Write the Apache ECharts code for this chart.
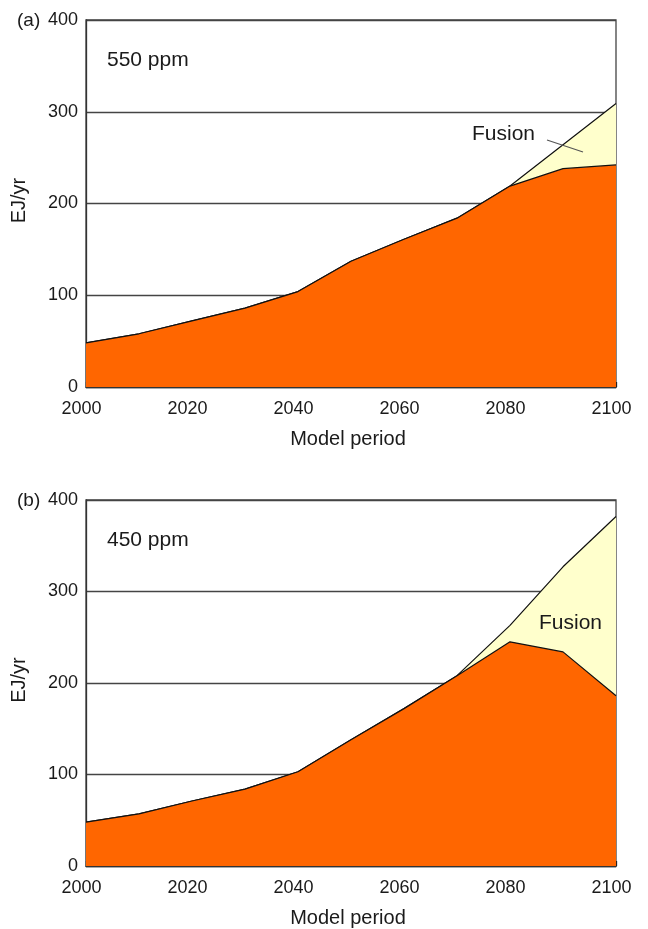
<!DOCTYPE html>
<html><head><meta charset="utf-8">
<script src="https://cdn.jsdelivr.net/npm/echarts@6/dist/echarts.min.js"></script>
<style>html,body{margin:0;padding:0;background:#fff}#c{width:648px;height:929px}</style>
</head><body><div id="c"></div>
<script>
const years = ['2000','2010','2020','2030','2040','2050','2060','2070','2080','2090','2100'];
const a_other = [48,58,72,86,104,137,161,184,219,238,242];
const a_fusion = [0,0,0,0,0,0,0,0,0,26,67];
const b_other = [48,57,71,84,103,138,172,208,245,234,186];
const b_fusion = [0,0,0,0,0,0,0,0,18,93,196];
const yTicks = [0,100,200,300,400];

const FONT = 'Liberation Sans, Arial, Helvetica, sans-serif';
const ORANGE = '#FF6600', PALE = '#FFFFCC', INK = '#1a1a1a';

function xAx(gi){
  return {gridIndex:gi,type:'category',data:years,boundaryGap:false,
    axisLine:{show:true,lineStyle:{color:'#333',width:1.3}},
    axisTick:{show:true,inside:true,length:5,interval:0,lineStyle:{color:'#222',width:1.3}},
    splitLine:{show:false},
    axisLabel:{color:INK,fontSize:18,fontFamily:FONT,margin:13,interval:1,padding:[0,9,0,0]},
    name:'Model period',nameLocation:'middle',nameGap:42,
    nameTextStyle:{color:INK,fontSize:20,fontFamily:FONT,padding:[0,6,0,0]}};
}
function yAx(gi){
  return {gridIndex:gi,type:'value',min:0,max:400,interval:100,
    axisLine:{show:true,lineStyle:{color:'#333',width:1.3}},
    axisTick:{show:false},
    splitLine:{show:true,lineStyle:{color:'#444',width:1.3}},
    axisLabel:{color:INK,fontSize:18,fontFamily:FONT,margin:8,
      formatter:v=> yTicks.includes(v)? String(v):''},
    name:'EJ/yr',nameLocation:'middle',nameGap:57,
    nameTextStyle:{color:INK,fontSize:20,fontFamily:FONT,padding:[0,0,0,6]}};
}
function areaSeries(gi,other,fusion,stack){
  const s1 = {type:'line',xAxisIndex:gi,yAxisIndex:gi,stack:stack,data:other,
    symbol:'none',lineStyle:{color:'#111',width:1.2},areaStyle:{color:ORANGE,opacity:1},z:3,silent:true};
  const s2 = {type:'line',xAxisIndex:gi,yAxisIndex:gi,stack:stack,data:fusion,
    symbol:'none',lineStyle:{color:'#111',width:1.2},areaStyle:{color:PALE,opacity:1},z:2,silent:true};
  return [s1,s2];
}

const chart = echarts.init(document.getElementById('c'),null,{renderer:'canvas'});
const txt = (x,y,t,size)=>({type:'text',left:x,top:y,z:100,style:{text:t,fill:INK,fontSize:size,fontFamily:FONT}});
chart.setOption({
  animation:false,
  backgroundColor:'#fff',
  grid:[
    {left:86,right:32,top:20,height:367,show:true,borderColor:'#444',borderWidth:1.3,backgroundColor:'transparent'},
    {left:86,right:32,top:500,height:368,show:true,borderColor:'#444',borderWidth:1.3,backgroundColor:'transparent'}
  ],
  xAxis:[xAx(0),xAx(1)],
  yAxis:[yAx(0),yAx(1)],
  series:[
    ...areaSeries(0,a_other,a_fusion,'a'),
    ...areaSeries(1,b_other,b_fusion,'b')
  ],
  graphic:[
    txt(17,11,'(a)',19),
    txt(107,50,'550 ppm',21),
    txt(472,124,'Fusion',21),
    {type:'line',z:100,shape:{x1:547,y1:140,x2:583,y2:152},style:{stroke:'#555',lineWidth:1.3}},
    txt(17,491,'(b)',19),
    txt(107,530,'450 ppm',21),
    txt(539,613,'Fusion',21)
  ]
});
</script></body></html>
